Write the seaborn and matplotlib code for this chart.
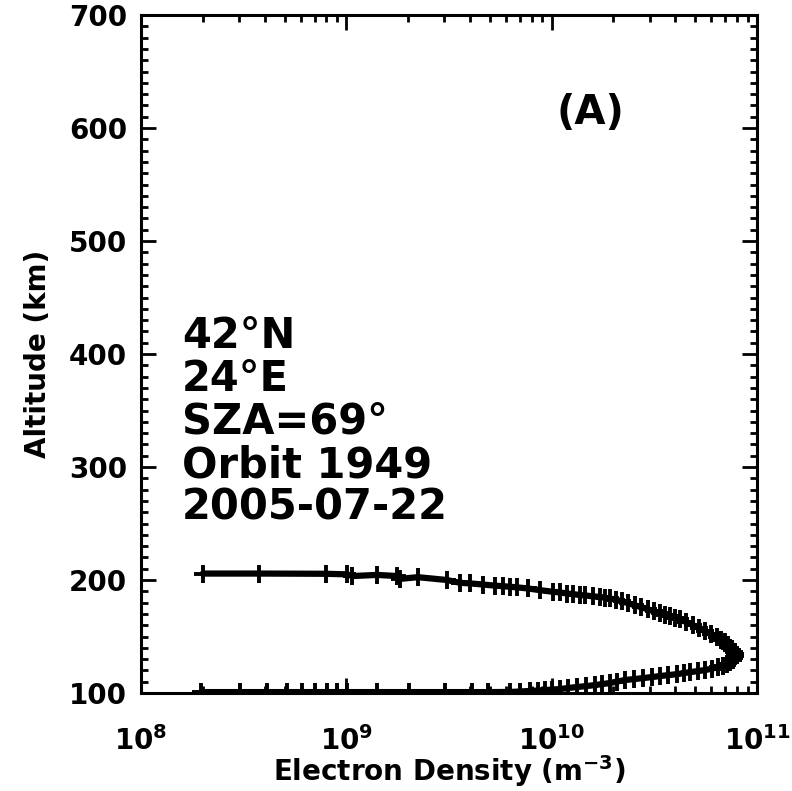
import matplotlib
matplotlib.use("Agg")
import matplotlib.pyplot as plt
import matplotlib.ticker as mticker
import seaborn as sns
import pandas as pd

# Electron density profile, top of profile -> peak -> bottom
density = [
    2.00e8, 3.76e8, 7.96e8, 1.01e9, 1.07e9, 1.41e9, 1.77e9, 1.83e9, 2.23e9,
    3.09e9, 3.58e9, 4.01e9, 4.63e9, 5.30e9, 5.80e9, 6.27e9, 6.78e9, 7.67e9,
    8.79e9, 1.02e10, 1.10e10, 1.19e10, 1.27e10, 1.37e10, 1.46e10, 1.59e10,
    1.72e10, 1.82e10, 1.92e10, 2.06e10, 2.20e10, 2.36e10, 2.55e10, 2.72e10,
    2.95e10, 3.15e10, 3.37e10, 3.57e10, 3.77e10, 3.99e10, 4.22e10, 4.52e10,
    4.89e10, 5.22e10, 5.59e10, 5.97e10, 6.39e10, 6.68e10, 7.00e10, 7.23e10,
    7.39e10, 7.57e10, 7.73e10, 7.82e10,
    7.82e10, 7.73e10, 7.65e10, 7.39e10, 7.15e10, 6.84e10, 6.46e10, 6.04e10,
    5.59e10, 5.16e10, 4.72e10, 4.42e10, 4.08e10, 3.69e10, 3.37e10, 3.08e10,
    2.79e10, 2.52e10, 2.28e10, 2.08e10, 1.92e10, 1.76e10, 1.63e10, 1.47e10,
    1.33e10, 1.20e10, 1.10e10, 1.00e10, 9.29e9, 8.59e9, 7.85e9, 7.02e9,
    6.27e9, 4.90e9, 4.09e9, 3.03e9, 2.02e9, 1.41e9, 1.01e9, 9.00e8, 8.05e8,
    7.04e8, 6.09e8, 5.14e8, 4.11e8, 3.04e8, 1.96e8,
]
altitude = [
    205.7, 205.7, 205.5, 205.0, 203.5, 204.5, 203.5, 201.0, 202.5,
    200.0, 197.5, 197.0, 196.0, 195.0, 194.5, 194.0, 193.5, 192.5,
    191.0, 189.5, 189.0, 188.0, 187.5, 186.7, 186.3, 185.5,
    185.0, 184.3, 183.7, 182.5, 181.0, 179.5, 177.5, 176.0,
    174.0, 172.3, 170.5, 169.3, 168.0, 166.6, 165.2, 162.8,
    159.9, 157.3, 154.6, 152.0, 149.3, 147.0, 144.9, 142.2,
    139.6, 138.0, 136.1, 134.4,
    132.6, 131.0, 129.1, 127.3, 125.6, 124.2, 122.9, 121.6,
    120.3, 119.4, 118.5, 117.6, 116.7, 115.8, 115.0, 114.1,
    113.2, 112.3, 111.5, 110.1, 108.8, 107.9, 107.0, 106.1,
    105.3, 104.4, 103.5, 103.0, 102.6, 102.2, 101.8, 101.3,
    100.9, 100.8, 100.8, 100.8, 100.8, 100.8, 100.8, 100.8, 100.8,
    100.8, 100.8, 100.8, 100.8, 100.8, 100.8,
]
info_lines = ["42°N", "24°E", "SZA=69°", "Orbit 1949", "2005-07-22"]
panel_label = "(A)"

df = pd.DataFrame({"density": density, "altitude": altitude})

sns.set_theme(style="ticks")
plt.rcParams["font.family"] = ["DejaVu Sans"]
plt.rcParams["font.weight"] = "bold"
plt.rcParams["mathtext.default"] = "regular"
for key in ["text.color", "axes.labelcolor", "xtick.color", "ytick.color",
            "axes.edgecolor"]:
    plt.rcParams[key] = "black"

fig = plt.figure(figsize=(7.92, 7.91), dpi=100)
ax = fig.add_axes([141 / 792, 1 - 693 / 791, (757 - 141) / 792, (693 - 15) / 791])

sns.lineplot(
    data=df, x="density", y="altitude", sort=False, estimator=None,
    color="black", linewidth=4.5, marker="+", markersize=13,
    markeredgewidth=2.8, markeredgecolor="black", ax=ax,
)

ax.set_xscale("log")
ax.set_xlim(1e8, 1e11)
ax.set_ylim(100, 700)
ax.yaxis.set_major_locator(mticker.MultipleLocator(100))
ax.yaxis.set_minor_locator(mticker.MultipleLocator(10))
ax.xaxis.set_minor_locator(mticker.LogLocator(base=10, subs=range(2, 10)))
ax.xaxis.set_minor_formatter(mticker.NullFormatter())

for s in ax.spines.values():
    s.set_linewidth(2.2)
    s.set_color("black")
    s.set_visible(True)

ax.tick_params(which="both", direction="in", top=True, right=True,
               color="black", width=2)
ax.tick_params(which="major", length=11)
ax.tick_params(which="minor", length=5)
ax.tick_params(axis="y", which="major", labelsize=20, pad=10)
ax.tick_params(axis="x", which="major", labelsize=20, pad=24)
for lab in ax.get_xticklabels() + ax.get_yticklabels():
    lab.set_fontweight("bold")

ax.set_xlabel("Electron Density (m$^{-3}$)", fontsize=20, fontweight="bold",
              labelpad=-2)
ax.set_ylabel("Altitude (km)", fontsize=20, fontweight="bold", labelpad=12)

ax.text(0.729, 0.855, panel_label, transform=ax.transAxes, fontsize=29,
        fontweight="bold", ha="center", va="center")

for i, line in enumerate(info_lines):
    fig.text(182 / 792, 1 - (348 + 43 * i) / 791, line, fontsize=30,
             fontweight="bold", ha="left", va="baseline")

fig.savefig("out.png", dpi=100)
